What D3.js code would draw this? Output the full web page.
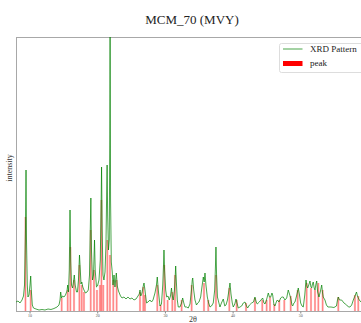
<!DOCTYPE html>
<html>
<head>
<meta charset="utf-8">
<script src="https://cdn.jsdelivr.net/npm/d3@7"></script>
<style>
  html, body { margin: 0; padding: 0; background: #fff; overflow: hidden; }
  text { font-family: "Liberation Serif", "DejaVu Serif", serif; }
</style>
</head>
<body>
<svg id="chart" width="361" height="323"></svg>
<script>
// XRD pattern of MCM_70 (MVY): 2-theta (degrees) and measured intensity (a.u.)
const twoTheta = [
  8.00, 8.30, 8.59, 8.89, 9.11, 9.26, 9.40, 9.48, 9.55, 9.67, 9.77, 9.92, 10.07, 10.17, 10.26, 10.41, 10.58,
  10.95, 11.40, 11.84, 12.28, 12.73, 13.17, 13.61, 14.06, 14.35,
  14.50, 14.60, 14.72, 14.87, 15.09, 15.31, 15.53, 15.64, 15.75, 15.87, 15.98, 16.08, 16.20, 16.35, 16.49,
  16.61, 16.74, 16.94, 17.08, 17.23, 17.38, 17.50, 17.60, 17.72, 17.87, 18.04, 18.27, 18.49, 18.68, 18.86,
  18.97, 19.06, 19.15, 19.30, 19.45, 19.60, 19.70, 19.89, 20.04, 20.26, 20.45, 20.58, 20.64, 20.73, 20.85,
  20.99, 21.15, 21.29, 21.40, 21.46, 21.54, 21.66, 21.78, 21.85, 21.90, 21.97, 22.08, 22.22, 22.33, 22.48,
  22.62, 22.82, 22.96, 23.14, 23.44,
  23.66, 23.95, 24.25, 24.54, 24.84, 25.13, 25.43, 25.73, 26.02, 26.21, 26.32, 26.43, 26.61, 26.80, 26.91,
  27.05, 27.28, 27.50, 27.79,
  28.02, 28.24, 28.53, 28.75, 28.87, 29.02, 29.27, 29.49, 29.68, 29.79, 29.86, 29.95, 30.11, 30.26, 30.45,
  30.64, 30.82, 30.97, 31.09, 31.23, 31.41, 31.53, 31.59, 31.69, 31.83, 31.97, 32.22, 32.45, 32.62, 32.79,
  32.96, 33.19, 33.45, 33.70, 33.92, 34.04, 34.11, 34.25, 34.44, 34.66, 34.84, 35.03, 35.28, 35.47, 35.67,
  35.80, 35.92, 36.06, 36.26, 36.46, 36.66, 36.88, 37.14, 37.35, 37.47, 37.54, 37.63, 37.76, 37.94, 38.13,
  38.35, 38.62, 38.84, 39.02, 39.24, 39.46, 39.61, 39.76, 39.95, 40.10, 40.32, 40.50, 40.65, 40.84, 41.09,
  41.34, 41.57, 41.83, 42.05, 42.22, 42.49, 42.81, 43.08, 43.30, 43.49, 43.64, 43.94, 44.19, 44.44, 44.63,
  44.78, 45.00, 45.27, 45.44, 45.62, 45.81, 45.92, 46.11, 46.26, 46.45, 46.60, 46.85, 47.10, 47.29, 47.48,
  47.73, 47.99, 48.22, 48.40, 48.58, 48.77, 48.87, 49.06, 49.21, 49.48, 49.70, 49.88, 50.05, 50.25, 50.44,
  50.66, 50.84, 50.98, 51.09, 51.25, 51.43, 51.57, 51.68, 51.80, 51.91, 52.05, 52.17, 52.31, 52.42, 52.56,
  52.76, 52.98, 53.16, 53.27, 53.39, 53.64, 53.86,
  54.08, 54.53, 54.97, 55.34, 55.49, 55.61, 55.78, 56.11, 56.45, 56.85, 57.12, 57.34, 57.59, 57.83, 58.07,
  58.30, 58.44, 58.71, 58.96, 59.26, 59.70, 59.99
];
const intensity = [
  90, 100, 80, 110, 150, 260, 810, 1410, 710, 260, 140, 160, 260, 350, 210, 60, 30,
  20, 10, 15, 10, 20, 15, 25, 40, 60,
  110, 190, 130, 150, 140, 160, 200, 260, 190, 410, 1010, 510, 260, 230, 290,
  360, 260, 190, 190, 310, 560, 410, 270, 290, 240, 210, 180, 190, 210, 360,
  810, 1130, 610, 310, 360, 710, 410, 240, 250, 310, 510, 1110, 1440, 810, 360,
  310, 390, 660, 1210, 1460, 960, 610, 710, 1710, 2910, 1110, 490, 390, 260, 360,
  240, 380, 250, 200, 150,
  130, 140, 120, 140, 120, 130, 110, 120, 150, 170, 210, 150, 180, 250, 280,
  210, 80, 90, 110,
  90, 110, 180, 260, 340, 210, 50, 70, 260, 460, 610, 410, 210, 140, 150,
  110, 150, 230, 150, 110, 210, 360, 450, 290, 110, 40, 40, 80, 130, 80,
  40, 40, 30, 70, 210, 310, 330, 210, 110, 60, 80, 90, 140, 240, 340,
  290, 380, 260, 140, 80, 40, 50, 80, 210, 460, 640, 360, 140, 90, 40,
  80, 120, 50, 60, 110, 210, 280, 170, 80, 40, 70, 120, 80, 30, 40,
  50, 80, 90, 50, 30, 60, 80, 90, 140, 90, 70, 90, 110, 130, 80,
  70, 110, 180, 140, 140, 180, 160, 60, 50, 90, 110, 90, 130, 140, 140,
  110, 130, 210, 170, 130, 60, 50, 80, 90, 160, 230, 160, 80, 50, 40,
  160, 310, 250, 230, 260, 300, 240, 230, 270, 290, 230, 210, 270, 300, 190,
  140, 200, 260, 190, 140, 110, 60,
  40, 40, 35, 50, 110, 140, 110, 110, 80, 60, 40, 40, 60, 110, 150,
  190, 150, 110, 90, 80, 90, 80
];

// Identified peak positions (2-theta) and their heights
const peakPos = [
  9.40, 10.17, 14.75, 15.64, 16.03, 16.57, 17.36, 17.71, 18.04, 19.04, 19.52, 19.96, 20.40, 20.62, 20.89,
  21.49, 21.88, 22.37, 22.87, 26.32, 26.80, 27.05, 28.87, 29.37, 29.90, 30.40, 31.09, 31.49, 32.47, 33.95,
  35.77, 36.40, 37.54, 39.51, 40.60, 41.98, 43.30, 44.38, 45.03, 45.52, 46.15, 46.89, 47.63, 48.58, 49.61,
  50.94, 51.58, 52.17, 52.66, 53.30, 55.61, 58.07, 58.56
];
const peakHeight = [
  940, 210, 130, 210, 640, 310, 460, 260, 190, 810, 410, 210, 260, 1110, 260,
  710, 560, 310, 310, 190, 240, 160, 260, 60, 460, 110, 190, 360, 110, 260,
  280, 110, 360, 230, 110, 80, 130, 110, 110, 140, 70, 110, 110, 150, 210,
  280, 230, 210, 280, 210, 140, 160, 150
];

const xTicks = [10, 20, 30, 40, 50];
const titleText = "MCM_70 (MVY)";
const xLabel = "2θ";
const yLabel = "intensity";
const seriesNames = ["XRD Pattern", "peak"];

const svg = d3.select("#chart");
const plot = { left: 16, right: 368, top: 37, bottom: 311 };

const x = d3.scaleLinear().domain([8, 60]).range([plot.left, plot.right]);
const y = d3.scaleLinear().domain([0, 2740]).range([plot.bottom, plot.top]);

svg.append("defs").append("clipPath").attr("id", "plot-clip")
  .append("rect")
  .attr("x", plot.left).attr("y", plot.top)
  .attr("width", plot.right - plot.left).attr("height", plot.bottom - plot.top);

// frame
const frameColor = "#a8a8a8";
svg.append("rect")
  .attr("x", plot.left + 0.5).attr("y", plot.top + 0.5)
  .attr("width", plot.right - plot.left).attr("height", plot.bottom - plot.top)
  .attr("fill", "none").attr("stroke", frameColor).attr("stroke-width", 1);

const g = svg.append("g").attr("clip-path", "url(#plot-clip)");

const peaks = peakPos.map((p, i) => ({ p, h: peakHeight[i] }));

// peak bars: pale fill with a thin red centre line
const barW = 0.32;
g.selectAll("rect.peak")
  .data(peaks)
  .join("rect")
  .attr("class", "peak")
  .attr("x", d => x(d.p - barW / 2))
  .attr("width", d => x(d.p + barW / 2) - x(d.p - barW / 2))
  .attr("y", d => y(d.h))
  .attr("height", d => y(0) - y(d.h))
  .attr("fill", "red")
  .attr("fill-opacity", 0.25);

g.selectAll("line.peak-edge")
  .data(peaks)
  .join("line")
  .attr("class", "peak-edge")
  .attr("x1", d => x(d.p)).attr("x2", d => x(d.p))
  .attr("y1", d => y(d.h)).attr("y2", y(0))
  .attr("stroke", "red").attr("stroke-opacity", 0.45).attr("stroke-width", 0.8);

// pattern line
const line = d3.line().x(d => x(d[0])).y(d => y(d[1]));
g.append("path")
  .datum(twoTheta.map((t, i) => [t, intensity[i]]))
  .attr("d", line)
  .attr("fill", "none")
  .attr("stroke", "#008000")
  .attr("stroke-opacity", 0.7)
  .attr("stroke-width", 1)
  .attr("stroke-linejoin", "round");

// x axis ticks
const xAxis = d3.axisBottom(x).tickValues(xTicks).tickSize(2).tickPadding(1);
const ax = svg.append("g").attr("transform", `translate(0,${plot.bottom + 0.5})`).call(xAxis);
ax.select(".domain").remove();
ax.selectAll("line").attr("stroke", "#888");
ax.selectAll("text").attr("font-size", 4).attr("fill", "#555")
  .attr("font-family", "Liberation Serif, serif");

// title and axis labels
svg.append("text")
  .attr("x", (plot.left + plot.right) / 2).attr("y", 24)
  .attr("text-anchor", "middle").attr("font-size", 13).attr("fill", "#222")
  .text(titleText);

svg.append("text")
  .attr("x", 193).attr("y", 321.5)
  .attr("text-anchor", "middle").attr("font-size", 8).attr("fill", "#333")
  .text(xLabel);

svg.append("text")
  .attr("transform", "translate(12,168) rotate(-90)")
  .attr("text-anchor", "middle").attr("font-size", 8).attr("fill", "#333")
  .text(yLabel);

// legend
const lg = svg.append("g").attr("transform", "translate(279.5,43.5)");
lg.append("rect")
  .attr("width", 95).attr("height", 29).attr("rx", 2)
  .attr("fill", "#fff").attr("fill-opacity", 0.85)
  .attr("stroke", "#ddd").attr("stroke-width", 1);
lg.append("line")
  .attr("x1", 3.5).attr("x2", 23).attr("y1", 5.5).attr("y2", 5.5)
  .attr("stroke", "#008000").attr("stroke-opacity", 0.6).attr("stroke-width", 1.2);
lg.append("rect")
  .attr("x", 3.5).attr("y", 17.5).attr("width", 19.5).attr("height", 5)
  .attr("fill", "red");
lg.append("text").attr("x", 30.5).attr("y", 8.5).attr("font-size", 9).attr("fill", "#222").text(seriesNames[0]);
lg.append("text").attr("x", 30.5).attr("y", 22.5).attr("font-size", 9).attr("fill", "#222").text(seriesNames[1]);
</script>
</body>
</html>
